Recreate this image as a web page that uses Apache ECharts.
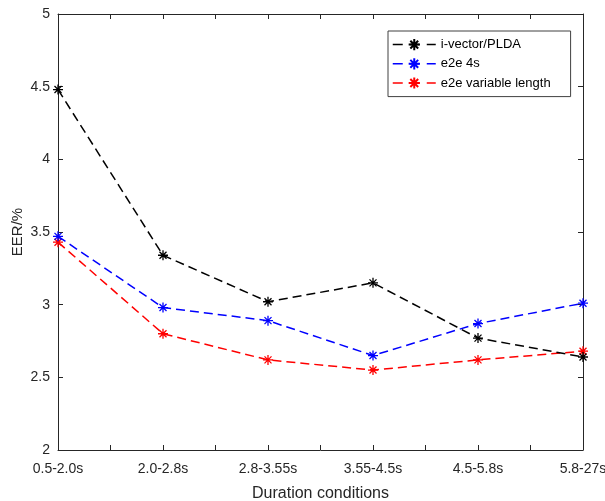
<!DOCTYPE html>
<html>
<head>
<meta charset="utf-8">
<script src="https://cdn.jsdelivr.net/npm/echarts@6/dist/echarts.min.js"></script>
<style>
  html, body { margin: 0; padding: 0; background: #fff; }
  #chart { width: 605px; height: 501px; }
</style>
</head>
<body>
<div id="chart"></div>
<script>
// Duration buckets on the x axis
const categories = ['0.5-2.0s', '2.0-2.8s', '2.8-3.55s', '3.55-4.5s', '4.5-5.8s', '5.8-27s'];

// EER (%) per duration bucket
const ivectorPlda = [4.48, 3.34, 3.02, 3.15, 2.77, 2.64];
const e2e4s = [3.47, 2.98, 2.89, 2.65, 2.87, 3.01];
const e2eVariable = [3.43, 2.80, 2.62, 2.55, 2.62, 2.68];

const seriesNames = ['i-vector/PLDA', 'e2e 4s', 'e2e variable length'];
const seriesColors = ['#000000', '#0000ff', '#ff0000'];
const seriesValues = [ivectorPlda, e2e4s, e2eVariable];

const yTicks = [2, 2.5, 3, 3.5, 4, 4.5, 5];

// asterisk marker: plus and cross overlaid
const asterisk = 'path://M5,0L5,10M0,5L10,5M1.5,1.5L8.5,8.5M1.5,8.5L8.5,1.5';

const axisColor = '#262626';
const font = 'Liberation Sans, Arial, Helvetica, sans-serif';

const chart = echarts.init(document.getElementById('chart'), null, { renderer: 'canvas' });

const xBase = {
  type: 'value',
  min: 0,
  max: categories.length - 1,
  interval: 0.5,
  axisLine: { show: true, onZero: false, lineStyle: { color: axisColor, width: 1 } },
  axisTick: { show: true, inside: true, length: 5, lineStyle: { color: axisColor } },
  splitLine: { show: false }
};
const yBase = {
  type: 'value',
  min: yTicks[0],
  max: yTicks[yTicks.length - 1],
  interval: 0.5,
  axisLine: { show: true, onZero: false, lineStyle: { color: axisColor, width: 1 } },
  axisTick: { show: true, inside: true, length: 5, lineStyle: { color: axisColor } },
  splitLine: { show: false }
};

const option = {
  backgroundColor: '#ffffff',
  animation: false,
  grid: { left: 58, right: 22, top: 14, bottom: 51, containLabel: false, outerBoundsMode: 'none' },
  legend: {
    data: seriesNames,
    orient: 'vertical',
    left: 388,
    top: 31,
    padding: [7, 20, 7, 4],
    itemGap: 6,
    itemWidth: 43,
    itemHeight: 14,
    backgroundColor: '#ffffff',
    borderColor: '#404040',
    borderWidth: 1,
    borderRadius: 0,
    lineStyle: { type: [10, 7], width: 1.5 },
    textStyle: { fontFamily: font, fontSize: 13, color: '#000000' }
  },
  xAxis: [
    Object.assign({}, xBase, {
      position: 'bottom',
      name: 'Duration conditions',
      nameLocation: 'middle',
      nameGap: 36,
      nameTextStyle: { fontFamily: font, fontSize: 16, color: axisColor },
      axisLabel: {
        show: true,
        margin: 12,
        fontFamily: font,
        fontSize: 14,
        color: axisColor,
        formatter: function (v) {
          return Number.isInteger(v) ? categories[v] : '';
        }
      }
    }),
    Object.assign({}, xBase, { position: 'top', axisLabel: { show: false } })
  ],
  yAxis: [
    Object.assign({}, yBase, {
      position: 'left',
      name: 'EER/%',
      nameLocation: 'middle',
      nameGap: 33,
      nameMoveOverlap: false,
      nameTextStyle: { fontFamily: font, fontSize: 15, color: axisColor },
      axisLabel: {
        show: true,
        margin: 8,
        fontFamily: font,
        fontSize: 14,
        color: axisColor,
        formatter: function (v) { return String(v); }
      }
    }),
    Object.assign({}, yBase, { position: 'right', axisLabel: { show: false } })
  ],
  series: seriesNames.map(function (name, k) {
    return {
      name: name,
      type: 'line',
      xAxisIndex: 0,
      yAxisIndex: 0,
      data: seriesValues[k].map(function (v, i) { return [i, v]; }),
      symbol: asterisk,
      symbolSize: 10,
      showSymbol: true,
      clip: false,
      lineStyle: { color: seriesColors[k], width: 1.5, type: [9, 5] },
      itemStyle: { color: seriesColors[k], borderColor: seriesColors[k], borderWidth: 1.3 },
      emphasis: { disabled: true },
      z: 3 + (seriesNames.length - k)
    };
  })
};

chart.setOption(option);
</script>
</body>
</html>
